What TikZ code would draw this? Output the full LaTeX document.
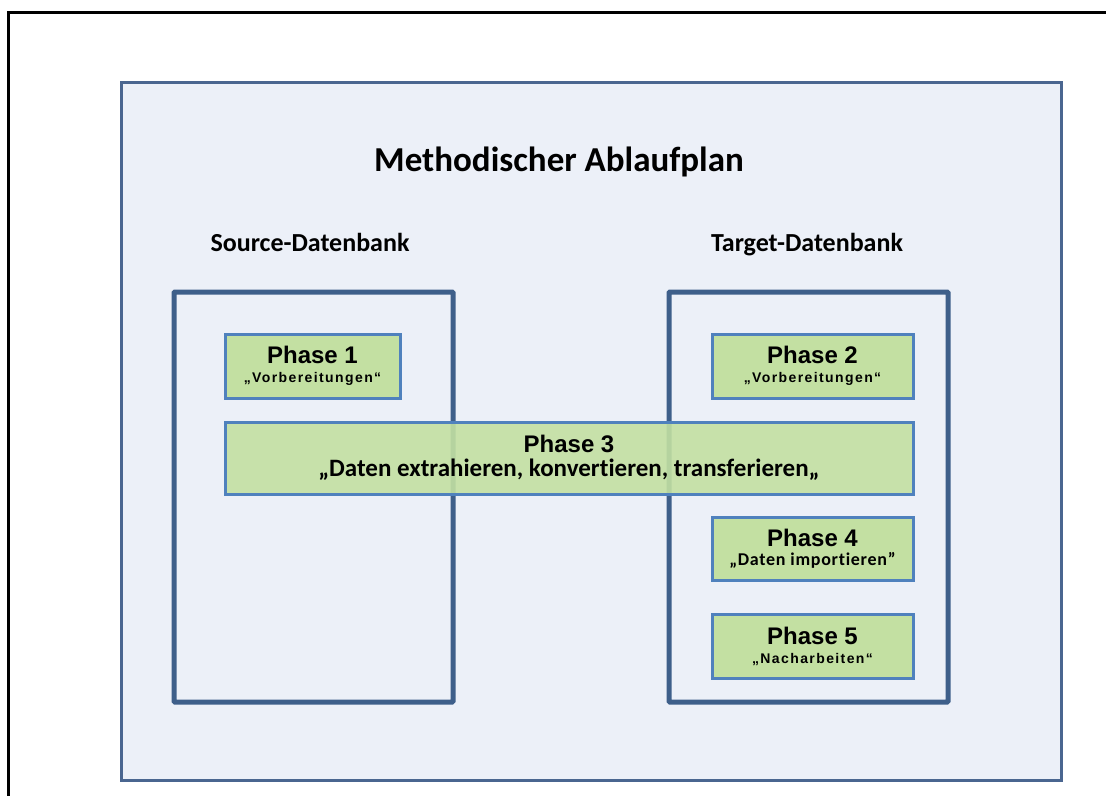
\documentclass[tikz,border=0pt]{standalone}
\usepackage{fontspec}
\setmainfont{Carlito}[Ligatures=NoCommon]
\newfontfamily\arialf{Liberation Sans}
\definecolor{panelfill}{HTML}{ECF0F8}
\definecolor{panelline}{HTML}{4A6690}
\definecolor{boxline}{HTML}{3E5F8A}
\definecolor{phasefill}{HTML}{C3E0A2}
\definecolor{phaseline}{HTML}{4F81BD}
\tikzset{
  panel/.style={draw=panelline, line width=3pt, fill=panelfill},
  dbbox/.style={draw=boxline, line width=5pt, rounded corners=1pt},
  phasebox/.style={draw=phaseline, line width=3pt, fill=phasefill, align=center, inner sep=0pt, anchor=center, font=\fontsize{14}{19}\selectfont},
  dbtitle/.style={font=\bfseries\fontsize{26}{30}\selectfont, anchor=base},
}
\newcommand{\phtit}[1]{{\arialf\bfseries\fontsize{24}{26}\selectfont #1}}
\newcommand{\phsub}[1]{{\arialf\bfseries\fontsize{14}{15}\selectfont\addfontfeature{LetterSpace=10}#1}}
\begin{document}
\begin{tikzpicture}[x=1pt,y=-1pt]
\useasboundingbox (0,0) rectangle (1106,796);
% black frame
\draw[line width=3pt, black] (1106,12) -- (8,12) -- (8,796);
% panel
\node[panel, minimum width=940pt, minimum height=698pt, inner sep=0pt] (panel) at (591,431) {};
\node[font=\bfseries\fontsize{35}{40}\selectfont] (title) at (559,162) {Methodischer Ablaufplan};
\node[dbtitle] (srclbl) at (310,251) {Source-Datenbank};
\node[dbtitle] (tgtlbl) at (807,251) {Target-Datenbank};
% database boxes
\node[dbbox, minimum width=279pt, minimum height=410pt, inner sep=0pt] (src) at (313.5,497) {};
\node[dbbox, minimum width=279pt, minimum height=410pt, inner sep=0pt] (tgt) at (808.5,497) {};
% phases
\node[phasebox, minimum width=175pt, minimum height=64pt] (p1) at (312.5,366)
  {\phtit{Phase 1}\\\phsub{„Vorbereitungen“}};
\node[phasebox, minimum width=201pt, minimum height=64pt] (p2) at (812.5,366)
  {\phtit{Phase 2}\\\phsub{„Vorbereitungen“}};
\node[phasebox, minimum width=688pt, minimum height=72pt, fill opacity=0.9, text opacity=1, font=\fontsize{14}{24}\selectfont] (p3) at (569,458)
  {\phtit{Phase 3}\\{\bfseries\fontsize{25}{26}\selectfont „Daten extrahieren, konvertieren, transferieren„}};
\node[phasebox, minimum width=201pt, minimum height=63pt] (p4) at (812.5,548.5)
  {\phtit{Phase 4}\\{\bfseries\fontsize{18}{19}\selectfont\addfontfeature{LetterSpace=4}„Daten importieren”}};
\node[phasebox, minimum width=201pt, minimum height=64pt] (p5) at (812.5,646)
  {\phtit{Phase 5}\\\phsub{„Nacharbeiten“}};
\end{tikzpicture}
\end{document}
